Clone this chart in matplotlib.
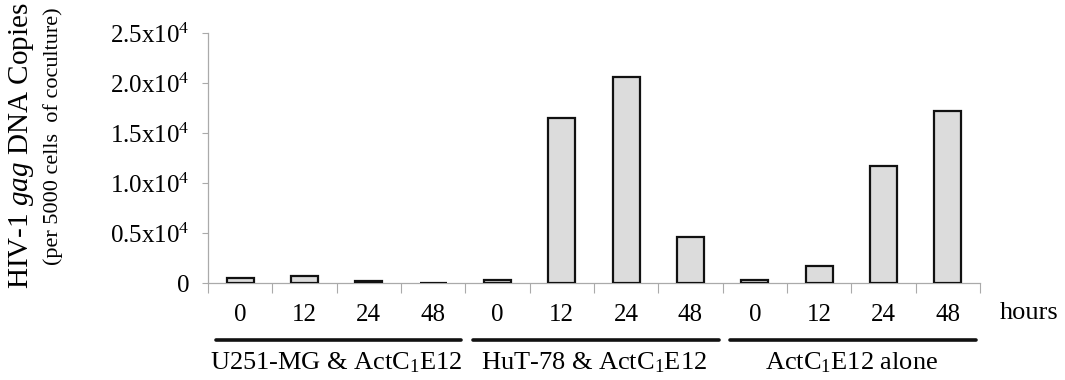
import matplotlib
matplotlib.use("Agg")
import matplotlib.pyplot as plt
import numpy as np
from matplotlib.ticker import FixedLocator

plt.rcParams['font.family'] = ['Liberation Serif', 'DejaVu Serif']
plt.rcParams['mathtext.fontset'] = 'custom'
plt.rcParams['mathtext.rm'] = 'Liberation Serif'
plt.rcParams['mathtext.it'] = 'Liberation Serif:italic'
plt.rcParams['mathtext.default'] = 'regular'

groups = ["U251-MG & ActC$_1$E12", "HuT-78 & ActC$_1$E12", "ActC$_1$E12 alone"]
hours = ["0", "12", "24", "48"]
u251_values = [500, 700, 250, 0]
hut78_values = [300, 16500, 20600, 4600]
alone_values = [300, 1700, 11700, 17200]
ytick_values = [0, 5000, 10000, 15000, 20000, 25000]
ytick_labels = ["0", "0.5x10$^4$", "1.0x10$^4$", "1.5x10$^4$", "2.0x10$^4$", "2.5x10$^4$"]

series = [u251_values, hut78_values, alone_values]
values = [v for s in series for v in s]
labels = hours * len(groups)
x = np.arange(len(values))

fig = plt.figure(figsize=(10.65, 3.8), dpi=100)
ax = fig.add_axes([208/1065, 1-283/380, (980-208)/1065, 250/380])

ax.bar(x, values, width=0.42, color='#dcdcdc', edgecolor='#111111', linewidth=1.6, zorder=3)

ax.set_xlim(-0.5, len(values) - 0.5)
ax.set_ylim(0, 25000)
ax.set_yticks(ytick_values)
ax.set_yticklabels(ytick_labels, fontsize=18)

ax.set_xticks(x)
ax.set_xticklabels(labels, fontsize=18)
ax.xaxis.set_minor_locator(FixedLocator(np.arange(-0.5, len(values), 1.0)))
ax.tick_params(axis='x', which='major', length=0, pad=15)
ax.tick_params(axis='x', which='minor', length=7, width=0.8, color='#aaaaaa', direction='out')
ax.tick_params(axis='y', length=4, width=0.8, color='#aaaaaa', direction='out', pad=9)

for s in ['top', 'right']:
    ax.spines[s].set_visible(False)
for s in ['left', 'bottom']:
    ax.spines[s].set_color('#aaaaaa')
    ax.spines[s].set_linewidth(0.9)

trans = ax.get_xaxis_transform()
for g, name in enumerate(groups):
    start = g * len(hours)
    ax.plot([start - 0.38, start + len(hours) - 0.56], [-0.228, -0.228], color='#111111',
            linewidth=2.6, transform=trans, clip_on=False, solid_capstyle='round')
    ax.text(start + (len(hours) - 1) / 2, -0.318, name, transform=trans, ha='center',
            va='center', fontsize=19)

ax.text(len(values) - 0.2, -0.12, "hours", transform=trans, ha='left', va='center', fontsize=19)

fig.text(22/1065, 1-146/380, "HIV-1 $\\mathit{gag}$ DNA Copies", rotation=90,
         ha='center', va='center', fontsize=21)
fig.text(53/1065, 1-136/380, "(per 5000 cells  of coculture)", rotation=90,
         ha='center', va='center', fontsize=16)

fig.savefig("out.png", dpi=100)
